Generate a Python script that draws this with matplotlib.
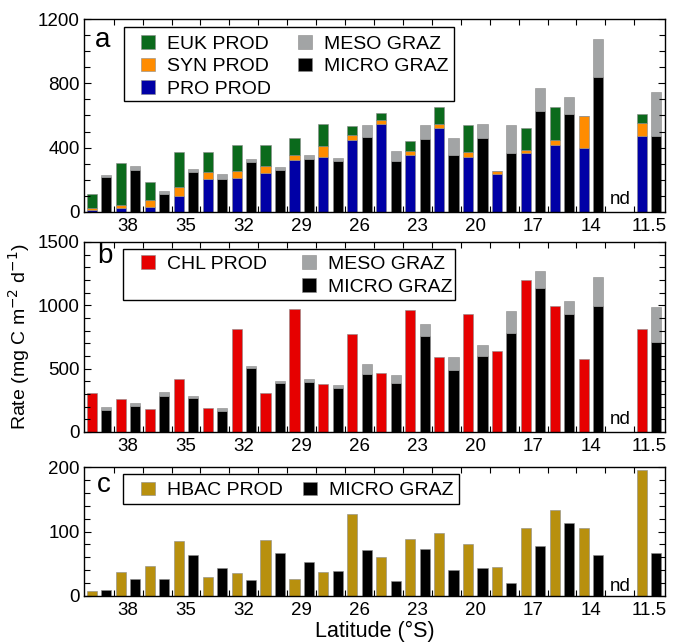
import numpy as np
import matplotlib
matplotlib.use("Agg")
import matplotlib.pyplot as plt
from matplotlib.patches import Patch, Rectangle
from matplotlib.ticker import MultipleLocator, FixedLocator

plt.rcParams['font.family'] = ['Liberation Sans', 'DejaVu Sans']

nan = np.nan
# 20 stations; station index 18 has no data (nd)
tick_labels = ['38', '35', '32', '29', '26', '23', '20', '17', '14', '11.5']
label_stations = [1, 3, 5, 7, 9, 11, 13, 15, 17, 19]

# Panel a (mg C m-2 d-1)
pro_prod  = [10, 25, 31, 100, 203, 210, 241, 322, 340, 448, 546, 355, 523, 345, 235, 365, 417, 401, nan, 473]
syn_prod  = [15, 21, 46, 56, 48, 45, 48, 33, 73, 29, 29, 23, 27, 29, 22, 19, 33, 199, nan, 83]
euk_prod  = [85, 261, 108, 217, 119, 162, 128, 104, 133, 59, 42, 64, 104, 164, 0, 137, 204, 0, nan, 56]
micro_graz_a = [218, 260, 114, 249, 206, 311, 260, 328, 316, 465, 320, 453, 357, 461, 365, 631, 608, 839, nan, 473]
meso_graz_a  = [14, 24, 17, 19, 29, 21, 18, 29, 22, 73, 62, 87, 102, 89, 173, 139, 106, 234, nan, 274]

# Panel b
chl_prod = [307, 260, 181, 417, 191, 810, 307, 973, 378, 771, 467, 962, 593, 928, 637, 1203, 998, 577, nan, 810]
micro_graz_b = [176, 202, 288, 265, 163, 506, 383, 391, 346, 461, 383, 760, 493, 600, 781, 1133, 928, 991, nan, 708]
meso_graz_b  = [18, 26, 24, 21, 28, 16, 21, 26, 22, 76, 65, 90, 100, 87, 176, 139, 110, 233, nan, 275]

# Panel c
hbac_prod = [7, 37, 46, 86, 30, 36, 87, 26, 37, 127, 60, 89, 97, 80, 45, 106, 134, 105, nan, 196]
micro_graz_c = [10, 27, 26, 64, 43, 25, 67, 52, 39, 72, 24, 73, 40, 43, 20, 78, 113, 63, nan, 66]

C_EUK = '#0b6a1c'
C_SYN = '#ff8c00'
C_PRO = '#0000a6'
C_MESO = '#a2a4a5'
C_MICRO = '#000000'
C_CHL = '#e60000'
C_HBAC = '#b8900e'

n = len(chl_prod)
st = np.arange(n)
xp = 2 * st          # production bar positions
xg = 2 * st + 1      # grazing bar positions
bw = 0.7
ek = dict(edgecolor='#8a8a8a', linewidth=0.4)

FW, FH = 679, 642
fig = plt.figure(figsize=(FW / 100, FH / 100), dpi=100)
AX_L, AX_R = 84, 665
panels_px = [(19, 212), (242, 432), (467, 596)]
axes = []
for top, bot in panels_px:
    axes.append(fig.add_axes([AX_L / FW, 1 - bot / FH, (AX_R - AX_L) / FW, (bot - top) / FH]))
axa, axb, axc = axes

def arr(v):
    return np.array(v, dtype=float)

# Panel a
pro = arr(pro_prod); syn = arr(syn_prod); euk = arr(euk_prod)
axa.bar(xp, pro, bw, color=C_PRO, **ek)
axa.bar(xp, syn, bw, bottom=pro, color=C_SYN, **ek)
axa.bar(xp, euk, bw, bottom=pro + syn, color=C_EUK, **ek)
mi = arr(micro_graz_a); me = arr(meso_graz_a)
axa.bar(xg, mi, bw, color=C_MICRO, **ek)
axa.bar(xg, me, bw, bottom=mi, color=C_MESO, **ek)

# Panel b
axb.bar(xp, arr(chl_prod), bw, color=C_CHL, **ek)
mi = arr(micro_graz_b); me = arr(meso_graz_b)
axb.bar(xg, mi, bw, color=C_MICRO, **ek)
axb.bar(xg, me, bw, bottom=mi, color=C_MESO, **ek)

# Panel c
axc.bar(xp, arr(hbac_prod), bw, color=C_HBAC, **ek)
axc.bar(xg, arr(micro_graz_c), bw, color=C_MICRO, **ek)

TS = 13.5
specs = [(axa, 1200, 400, 100), (axb, 1500, 500, 100), (axc, 200, 100, 20)]
for ax, ymax, major, minor in specs:
    ax.set_xlim(-0.55, 39.62)
    ax.set_ylim(0, ymax)
    ax.yaxis.set_major_locator(MultipleLocator(major))
    ax.yaxis.set_minor_locator(MultipleLocator(minor))
    ax.xaxis.set_major_locator(FixedLocator([2 * s + 0.5 for s in label_stations]))
    ax.set_xticklabels(tick_labels)
    ax.xaxis.set_minor_locator(FixedLocator([2 * s - 0.5 for s in range(1, n)]))
    ax.tick_params(axis='x', which='major', length=0, pad=4, labelsize=TS)
    ax.tick_params(axis='x', which='minor', direction='in', length=4, width=0.8, top=True, bottom=True)
    ax.tick_params(axis='y', which='both', direction='in', left=True, right=True, width=0.8)
    ax.tick_params(axis='y', which='major', length=5, labelsize=TS, pad=3)
    ax.tick_params(axis='y', which='minor', length=4)
    for sp in ax.spines.values():
        sp.set_linewidth(1.0)
    ax.text(2 * 18 + 0.5, 0.04, 'nd', transform=ax.get_xaxis_transform(),
            ha='center', va='baseline', fontsize=TS)

axa.text(0.019, 0.855, 'a', transform=axa.transAxes, fontsize=20, va='baseline')
axb.text(0.022, 0.889, 'b', transform=axb.transAxes, fontsize=20, va='baseline')
axc.text(0.022, 0.806, 'c', transform=axc.transAxes, fontsize=20, va='baseline')

LS = 14
em = LS * 100 / 72.0
legkw = dict(frameon=False, fontsize=LS,
             handlelength=14 / em, handleheight=14 / em, handletextpad=12 / em,
             borderpad=0, labelspacing=0.25, borderaxespad=0,
             loc='upper left')

def sq(c):
    return Patch(facecolor=c, edgecolor='#8a8a8a', linewidth=0.4)

def ax_frac(ax, px, py):
    top, bot = panels_px[axes.index(ax)]
    return (px - AX_L) / (AX_R - AX_L), (bot - py) / (bot - top)

def frame(ax, x0, y0, x1, y1):
    fx0, fy1 = ax_frac(ax, x0, y0)
    fx1, fy0 = ax_frac(ax, x1, y1)
    ax.add_patch(Rectangle((fx0, fy0), fx1 - fx0, fy1 - fy0, transform=ax.transAxes,
                           facecolor='white', edgecolor='black', linewidth=1.0, zorder=4))

frame(axa, 124, 27, 454, 101)
frame(axb, 123, 249, 455, 300)
frame(axc, 123, 474, 459, 504)

la = axa.legend([sq(C_EUK), sq(C_SYN), sq(C_PRO), sq(C_MESO), sq(C_MICRO)],
                ['EUK PROD', 'SYN PROD', 'PRO PROD', 'MESO GRAZ', 'MICRO GRAZ'],
                ncol=2, columnspacing=27.3 / em, bbox_to_anchor=ax_frac(axa, 141, 35), **legkw)

blank = Patch(facecolor='none', edgecolor='none')
lb = axb.legend([sq(C_CHL), blank, sq(C_MESO), sq(C_MICRO)],
                ['CHL PROD', '', 'MESO GRAZ', 'MICRO GRAZ'],
                ncol=2, columnspacing=34.6 / em, bbox_to_anchor=ax_frac(axb, 141, 255.5), **legkw)

lc = axc.legend([sq(C_HBAC), sq(C_MICRO)], ['HBAC PROD', 'MICRO GRAZ'],
                ncol=2, columnspacing=20.4 / em, bbox_to_anchor=ax_frac(axc, 141, 481.5), **legkw)

axb.set_ylabel('Rate (mg C m$^{-2}$ d$^{-1}$)', fontsize=14, labelpad=4)
axc.set_xlabel('Latitude (°S)', fontsize=15.5, labelpad=2)

fig.savefig('out.png', dpi=100)
